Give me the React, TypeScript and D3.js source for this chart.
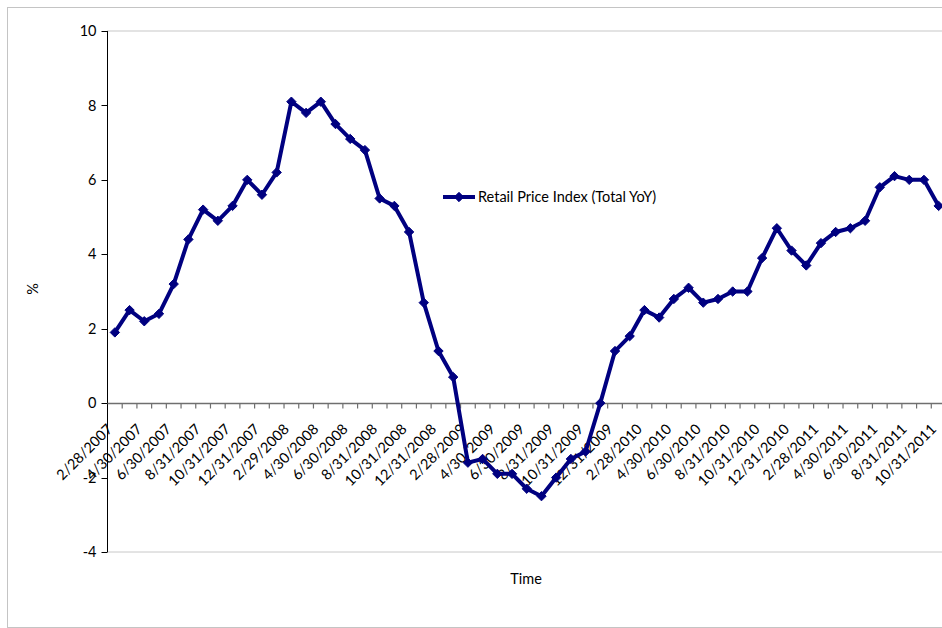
import React, { useEffect, useRef } from "react";
import * as d3 from "d3";

// Month-end observation dates, Feb 2007 – Oct 2011
const dates: string[] = [
  "2/28/2007", "3/31/2007", "4/30/2007", "5/31/2007", "6/30/2007", "7/31/2007",
  "8/31/2007", "9/30/2007", "10/31/2007", "11/30/2007", "12/31/2007", "1/31/2008",
  "2/29/2008", "3/31/2008", "4/30/2008", "5/31/2008", "6/30/2008", "7/31/2008",
  "8/31/2008", "9/30/2008", "10/31/2008", "11/30/2008", "12/31/2008", "1/31/2009",
  "2/28/2009", "3/31/2009", "4/30/2009", "5/31/2009", "6/30/2009", "7/31/2009",
  "8/31/2009", "9/30/2009", "10/31/2009", "11/30/2009", "12/31/2009", "1/31/2010",
  "2/28/2010", "3/31/2010", "4/30/2010", "5/31/2010", "6/30/2010", "7/31/2010",
  "8/31/2010", "9/30/2010", "10/31/2010", "11/30/2010", "12/31/2010", "1/31/2011",
  "2/28/2011", "3/31/2011", "4/30/2011", "5/31/2011", "6/30/2011", "7/31/2011",
  "8/31/2011", "9/30/2011", "10/31/2011",
];

// Retail Price Index, total, year-over-year %
const rpiYoY: number[] = [
  1.9, 2.5, 2.2, 2.4, 3.2, 4.4, 5.2, 4.9, 5.3, 6.0, 5.6, 6.2,
  8.1, 7.8, 8.1, 7.5, 7.1, 6.8, 5.5, 5.3, 4.6, 2.7, 1.4, 0.7,
  -1.6, -1.5, -1.9, -1.9, -2.3, -2.5, -2.0, -1.5, -1.3, 0.0, 1.4, 1.8,
  2.5, 2.3, 2.8, 3.1, 2.7, 2.8, 3.0, 3.0, 3.9, 4.7, 4.1, 3.7,
  4.3, 4.6, 4.7, 4.9, 5.8, 6.1, 6.0, 6.0, 5.3,
];

const yTicks: number[] = [-4, -2, 0, 2, 4, 6, 8, 10];

const seriesName = "Retail Price Index (Total YoY)";
const yTitle = "%";
const xTitle = "Time";

const W = 942;
const H = 628;
const FONT = "Lato, 'Open Sans', sans-serif";
const FS = 14.5;
const NAVY = "#000080";

export default function App() {
  const ref = useRef<SVGSVGElement | null>(null);

  useEffect(() => {
    const svg = d3.select(ref.current);
    svg.selectAll("*").remove();

    const left = 107.5;
    const right = 946;
    const top = 31;
    const bottom = 552;

    const x = d3.scaleBand<string>().domain(dates).range([left, right]).padding(0);
    const cx = (d: string) => (x(d) as number) + x.bandwidth() / 2;
    const y = d3.scaleLinear().domain([-4, 10]).range([bottom, top]);

    // chart area frame
    svg.append("rect")
      .attr("x", 7.5).attr("y", 7.5)
      .attr("width", W).attr("height", 620)
      .attr("fill", "#fff").attr("stroke", "#c4c4c4").attr("stroke-width", 1);

    // plot area frame
    svg.append("rect")
      .attr("x", left).attr("y", top)
      .attr("width", right - left).attr("height", bottom - top)
      .attr("fill", "none").attr("stroke", "#c8c8c8").attr("stroke-width", 1);

    // y axis
    const yAxis = svg.append("g");
    yAxis.append("line")
      .attr("x1", left).attr("x2", left).attr("y1", top).attr("y2", bottom)
      .attr("stroke", "#000").attr("stroke-width", 1);
    yAxis.selectAll("line.tick").data(yTicks).join("line")
      .attr("class", "tick")
      .attr("x1", left - 6).attr("x2", left)
      .attr("y1", (d) => Math.round(y(d)) + 0.5).attr("y2", (d) => Math.round(y(d)) + 0.5)
      .attr("stroke", "#000");
    yAxis.selectAll("text").data(yTicks).join("text")
      .attr("x", left - 11).attr("y", (d) => y(d))
      .attr("dy", "0.35em").attr("text-anchor", "end")
      .attr("font-family", FONT).attr("font-size", FS).attr("fill", "#000")
      .text((d) => String(d));

    // x axis along zero
    const y0 = Math.round(y(0)) + 0.5;
    const xAxis = svg.append("g");
    xAxis.append("line")
      .attr("x1", left).attr("x2", right).attr("y1", y0).attr("y2", y0)
      .attr("stroke", "#6f6f6f").attr("stroke-width", 1.4);
    const boundaries = d3.range(dates.length + 1).map((i) => left + i * x.bandwidth());
    xAxis.selectAll("line.tick").data(boundaries.slice(1)).join("line")
      .attr("class", "tick")
      .attr("x1", (d) => d).attr("x2", (d) => d)
      .attr("y1", y0).attr("y2", y0 + 5)
      .attr("stroke", "#6f6f6f").attr("stroke-width", 1.2);
    xAxis.selectAll("text")
      .data(dates.filter((_, i) => i % 2 === 0))
      .join("text")
      .attr("transform", (d) => `translate(${cx(d) - 5},${y0 + 23}) rotate(-45)`)
      .attr("dy", "0.35em").attr("text-anchor", "end")
      .attr("font-family", FONT).attr("font-size", FS).attr("fill", "#000")
      .text((d) => d);

    // series line and markers
    const line = d3.line<number>()
      .x((_, i) => cx(dates[i]))
      .y((v) => y(v));
    svg.append("path")
      .datum(rpiYoY)
      .attr("d", line)
      .attr("fill", "none").attr("stroke", NAVY)
      .attr("stroke-width", 4).attr("stroke-linejoin", "round");

    const diamond = d3.symbol().type(d3.symbolDiamond2).size(56);
    svg.append("g").selectAll("path").data(rpiYoY).join("path")
      .attr("transform", (v, i) => `translate(${cx(dates[i])},${y(v)})`)
      .attr("d", diamond() as string)
      .attr("fill", NAVY).attr("stroke", NAVY).attr("stroke-width", 1);

    // legend
    const lg = svg.append("g").attr("transform", "translate(443,197)");
    lg.append("line").attr("x1", 0).attr("x2", 32).attr("y1", 0).attr("y2", 0)
      .attr("stroke", NAVY).attr("stroke-width", 4);
    lg.append("path").attr("transform", "translate(16,0)")
      .attr("d", diamond() as string).attr("fill", NAVY).attr("stroke", NAVY);
    lg.append("text").attr("x", 35).attr("y", 0).attr("dy", "0.35em")
      .attr("font-family", FONT).attr("font-size", FS).attr("fill", "#000")
      .text(seriesName);

    // axis titles
    svg.append("text")
      .attr("transform", "translate(33,289) rotate(-90)")
      .attr("dy", "0.35em").attr("text-anchor", "middle")
      .attr("font-family", FONT).attr("font-size", FS).attr("fill", "#000")
      .text(yTitle);
    svg.append("text")
      .attr("x", 526).attr("y", 579).attr("dy", "0.35em").attr("text-anchor", "middle")
      .attr("font-family", FONT).attr("font-size", FS).attr("fill", "#000")
      .text(xTitle);
  }, []);

  return (
    <svg
      ref={ref}
      width={W}
      height={H}
      style={{ position: "absolute", left: 0, top: 0, display: "block" }}
    />
  );
}
